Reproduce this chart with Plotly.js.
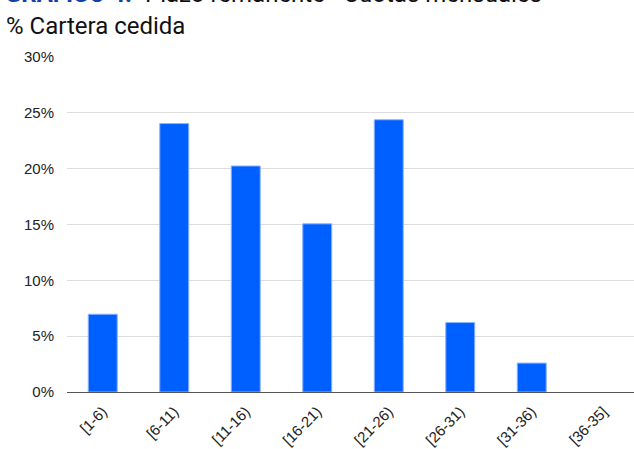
<!DOCTYPE html>
<html>
<head>
<meta charset="utf-8">
<script src="https://cdn.plot.ly/plotly-3.0.1.min.js"></script>
<style>html,body{margin:0;padding:0;background:#fff;}#chart{width:634px;height:449px;}</style>
</head>
<body>
<div id="chart"></div>
<script>
const categories = ["[1-6)", "[6-11)", "[11-16)", "[16-21)", "[21-26)", "[26-31)", "[31-36)", "[36-35]"];
const shares = [0.0696, 0.2404, 0.2024, 0.1506, 0.2438, 0.0622, 0.0259, 0];
const yTicks = [0, 0.05, 0.10, 0.15, 0.20, 0.25, 0.30];
const yTickLabels = ["0%", "5%", "10%", "15%", "20%", "25%", "30%"];

const trace = {
  type: "bar",
  x: categories,
  y: shares,
  marker: {
    color: "#0060ff",
    line: { color: "#8ab2ff", width: shares.map(v => v > 0 ? 1 : 0) }
  },
  hoverinfo: "none"
};

const layout = {
  width: 634, height: 449,
  margin: { l: 67, r: 0, t: 57, b: 57 },
  paper_bgcolor: "#fff", plot_bgcolor: "#fff",
  showlegend: false,
  bargap: 0.595,
  font: { family: "Liberation Sans, Arial, sans-serif", color: "#222" },
  xaxis: {
    type: "category",
    range: [-0.5, 7.43],
    tickangle: -45,
    tickfont: { size: 15, color: "#222" },
    ticklabelstandoff: 4,
    showgrid: false,
    showline: true, linecolor: "#555", linewidth: 1,
    ticks: "", fixedrange: true
  },
  yaxis: {
    range: [0, 0.30],
    tickvals: yTicks, ticktext: yTickLabels,
    tickfont: { size: 15, color: "#222" },
    showgrid: true, gridcolor: "#dddddd", gridwidth: 1,
    zeroline: false, showline: false, ticks: "",
    ticklabelstandoff: 12,
    fixedrange: true
  },
  annotations: [
    {
      xref: "paper", yref: "paper", x: (3-67)/567, y: (392-10)/335,
      xanchor: "left", yanchor: "bottom", showarrow: false,
      text: "<b>GRÁFICO 4.</b>",
      font: { family: "Roboto, sans-serif", size: 24, color: "#1040a8" }
    },
    {
      xref: "paper", yref: "paper", x: (143-67)/567, y: (392-10)/335,
      xanchor: "left", yanchor: "bottom", showarrow: false,
      text: "Plazo remanente - Cuotas mensuales",
      font: { family: "Roboto, sans-serif", size: 24, color: "#111" }
    },
    {
      xref: "paper", yref: "paper", x: (4-67)/567, y: (392-26)/335,
      xanchor: "left", yanchor: "middle", showarrow: false,
      text: "% Cartera cedida",
      font: { family: "Roboto, sans-serif", size: 24, color: "#111" }
    }
  ]
};

Plotly.newPlot("chart", [trace], layout, { displayModeBar: false, staticPlot: true });
</script>
</body>
</html>
